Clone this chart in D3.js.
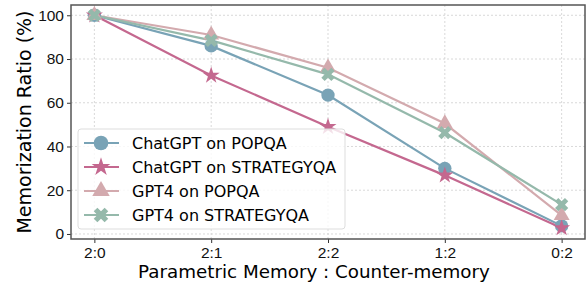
<!DOCTYPE html>
<html>
<head>
<meta charset="utf-8">
<script src="https://cdn.jsdelivr.net/npm/d3@7"></script>
<style>
  body { margin: 0; background: #fff; }
  svg { font-family: "DejaVu Sans", sans-serif; }
  .grid line { stroke: #cfcfcf; stroke-dasharray: 2,2; stroke-width: 0.8; }
  .axis text { font-size: 15.5px; fill: #111; }
  .axis line { stroke: #333; }
  .axis path { display: none; }
</style>
</head>
<body>
<div id="chart" style="width:587px;height:284px;"></div>
<script>
// categories along the bottom
let categories = ['2:0', '2:1', '2:2', '1:2', '0:2'];
let yticks = [0, 20, 40, 60, 80, 100];

// series values (memorization ratio, %)
let chatgptPopqa = [100, 86, 63.5, 30, 3.7];
let chatgptStrategy = [100, 72.5, 49, 26.8, 2.7];
let gpt4Popqa = [100, 91, 76, 50.5, 8.5];
let gpt4Strategy = [100, 88.5, 73, 46.3, 13.4];

let seriesNames = ['ChatGPT on POPQA', 'ChatGPT on STRATEGYQA', 'GPT4 on POPQA', 'GPT4 on STRATEGYQA'];
let seriesValues = [chatgptPopqa, chatgptStrategy, gpt4Popqa, gpt4Strategy];
let colors = ['#79a3b6', '#c4688f', '#d3aaae', '#95b9ab'];
let markers = ['circle', 'star', 'triangle', 'cross'];

let margin = {top: 5, right: 2, bottom: 45, left: 71};
let width = 587 - margin.left - margin.right,
    height = 284 - margin.top - margin.bottom;

let svg = d3.select('#chart').append('svg')
    .attr('width', 587)
    .attr('height', 284)
  .append('g')
    .attr('transform', 'translate(' + margin.left + ',' + margin.top + ')');

// x as index scale with matplotlib-like padding
let x = d3.scaleLinear()
    .domain([-0.2, categories.length - 1 + 0.2])
    .range([0, width]);
let y = d3.scaleLinear()
    .domain([-2.3, 104.7])
    .range([height, 0]);

// grid
svg.append('g').attr('class', 'grid')
  .selectAll('line.h').data(yticks).enter().append('line')
    .attr('x1', 0).attr('x2', width)
    .attr('y1', d => y(d)).attr('y2', d => y(d));
svg.select('.grid')
  .selectAll('line.v').data(categories).enter().append('line')
    .attr('y1', 0).attr('y2', height)
    .attr('x1', (d, i) => x(i)).attr('x2', (d, i) => x(i));

// axes
svg.append('g')
    .attr('class', 'axis')
    .attr('transform', 'translate(0,' + height + ')')
    .call(d3.axisBottom(x).tickValues(d3.range(categories.length))
        .tickFormat(i => categories[i]).tickSize(4).tickPadding(4));
svg.append('g')
    .attr('class', 'axis')
    .call(d3.axisLeft(y).tickValues(yticks).tickSize(4).tickPadding(3));

// lines and markers
let line = d3.line()
    .x((d, i) => x(i))
    .y(d => y(d));

function markerPath(type, size) {
    let sym = {circle: d3.symbolCircle, star: d3.symbolStar, triangle: d3.symbolTriangle, cross: d3.symbolCross}[type];
    return d3.symbol().type(sym).size(size)();
}
let markerSizes = {circle: 140, star: 90, triangle: 110, cross: 110};

seriesValues.forEach(function(vals, s) {
    svg.append('path')
        .datum(vals)
        .attr('fill', 'none')
        .attr('stroke', colors[s])
        .attr('stroke-width', 2.2)
        .attr('d', line);
});
seriesValues.forEach(function(vals, s) {
    svg.selectAll('.m' + s).data(vals).enter().append('path')
        .attr('class', 'm' + s)
        .attr('transform', (d, i) => 'translate(' + x(i) + ',' + y(d) + ')' + (markers[s] === 'cross' ? ' rotate(45)' : ''))
        .attr('d', markerPath(markers[s], markerSizes[markers[s]]))
        .attr('fill', colors[s]);
});

// frame
svg.append('rect')
    .attr('width', width).attr('height', height)
    .attr('fill', 'none').attr('stroke', '#555').attr('stroke-width', 1.5);

// axis labels
svg.append('text')
    .attr('transform', 'rotate(-90)')
    .attr('x', -(height / 2))
    .attr('y', -margin.left + 31)
    .style('text-anchor', 'middle')
    .style('font-size', '19px')
    .text('Memorization Ratio (%)');
svg.append('text')
    .attr('x', width / 2 - 14)
    .attr('y', height + 39)
    .style('text-anchor', 'middle')
    .style('font-size', '18.3px')
    .text('Parametric Memory : Counter-memory');

// legend
let legend = svg.append('g')
    .attr('transform', 'translate(' + (78 - margin.left) + ',' + (129 - margin.top) + ')');
legend.append('rect')
    .attr('width', 267).attr('height', 100)
    .attr('rx', 3)
    .attr('fill', 'rgba(255,255,255,0.8)')
    .attr('stroke', '#dddddd');
seriesNames.forEach(function(name, s) {
    let g = legend.append('g').attr('transform', 'translate(0,' + (14 + s * 24) + ')');
    g.append('line').attr('x1', 6).attr('x2', 41).attr('y1', 0).attr('y2', 0)
        .attr('stroke', colors[s]).attr('stroke-width', 2.2);
    g.append('path')
        .attr('transform', 'translate(23,0)' + (markers[s] === 'cross' ? ' rotate(45)' : ''))
        .attr('d', markerPath(markers[s], markerSizes[markers[s]] * 1.2))
        .attr('fill', colors[s]);
    g.append('text')
        .attr('x', 54).attr('y', 0).attr('dy', '0.36em')
        .style('font-size', '16px')
        .text(name);
});
</script>
</body>
</html>
